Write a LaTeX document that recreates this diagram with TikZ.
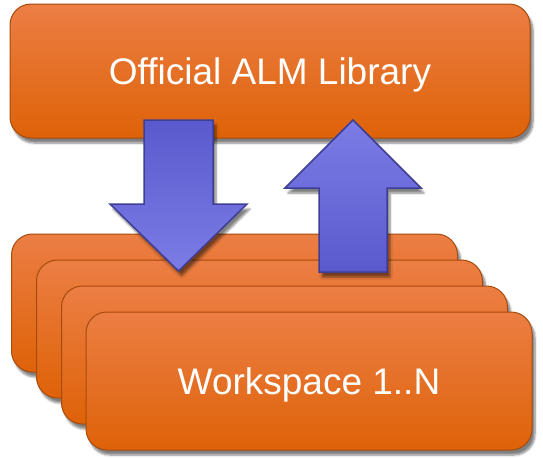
\documentclass[tikz,border=0pt]{standalone}
\usepackage{fontspec}
\setmainfont{Liberation Sans}
\usetikzlibrary{shadows.blur}

\definecolor{boxtop}{RGB}{236,126,68}
\definecolor{boxbottom}{RGB}{222,98,8}
\definecolor{boxedge}{RGB}{165,75,12}
\definecolor{arrowdark}{RGB}{90,90,206}
\definecolor{arrowlight}{RGB}{124,124,230}
\definecolor{arrowedge}{RGB}{62,62,150}

\tikzset{
  softshadow/.style={blur shadow={shadow xshift=3pt,shadow yshift=-5pt,shadow blur steps=6,shadow opacity=50}},
  panel/.style={rectangle,rounded corners=21pt,draw=boxedge,line width=1pt,
    top color=boxtop,bottom color=boxbottom,inner sep=0pt,text=white,
    text depth=0pt,font=\fontsize{37}{44}\selectfont,softshadow},
  workspace/.style={panel,minimum width=446pt,minimum height=138pt},
  blockarrow/.style={draw=arrowedge,line width=1.5pt,line join=miter,softshadow}
}

\begin{document}
\begin{tikzpicture}[x=1pt,y=-1pt]
  \useasboundingbox (0,0) rectangle (543,458);

  \node[panel,minimum width=520pt,minimum height=134pt] (library) at (270,71) {Official ALM Library};

  % stack of workspaces, back to front
  \foreach \i in {1,2,3}
    \node[workspace] (ws\i) at (209.5+25*\i,277+26*\i) {};
  \node[workspace] (ws4) at (309,381) {Workspace 1..N};

  % check out / check in
  \path[blockarrow,top color=arrowdark,bottom color=arrowlight]
    (144,120) -- (213,120) -- (213,204) -- (247,204) -- (178.5,271)
    -- (110,204) -- (144,204) -- cycle;
  \path[blockarrow,top color=arrowlight,bottom color=arrowdark]
    (319,272) -- (387,272) -- (387,188) -- (421,188) -- (353,120)
    -- (285,188) -- (319,188) -- cycle;
\end{tikzpicture}
\end{document}
